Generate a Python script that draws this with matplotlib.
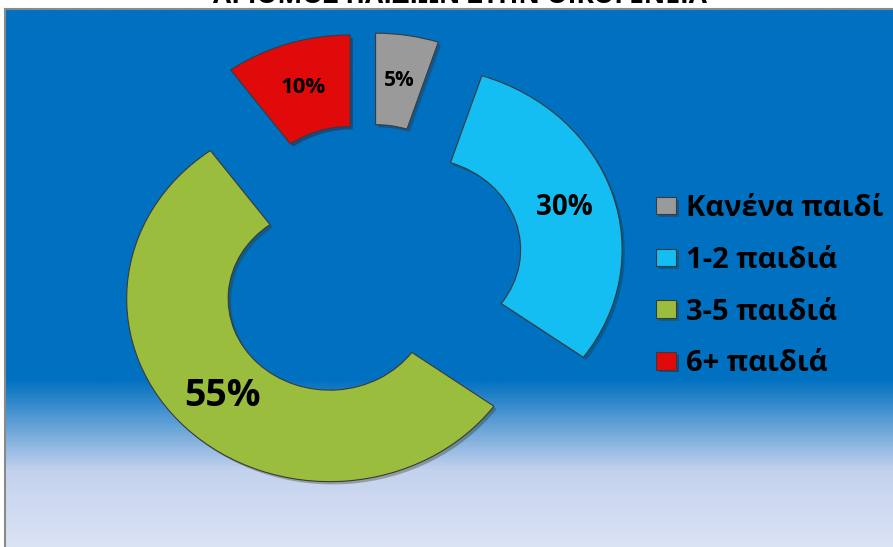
import numpy as np
import matplotlib.pyplot as plt
import matplotlib.patheffects as pe
from matplotlib.colors import LinearSegmentedColormap

W, H = 893, 547

title = "ΑΡΙΘΜΟΣ ΠΑΙΔΙΩΝ ΣΤΗΝ ΟΙΚΟΓΕΝΕΙΑ"
categories = ["Κανένα παιδί", "1-2 παιδιά", "3-5 παιδιά", "6+ παιδιά"]
shares = [5, 30, 55, 10]

colors = ["#9a9a9a", "#14bdf2", "#9bbd3e", "#e00a0a"]
explode = [0.27, 0.27, 0.26, 0.27]
label_sizes = [15, 20, 27, 16]

# donut centre in pixels, the original is stretched wider than tall
CX, CY = 367, 265
SX, SY = 203, 183

plt.rcParams['font.family'] = ['Open Sans', 'DejaVu Sans']

fig = plt.figure(figsize=(W / 100, H / 100), dpi=100)

# background panel with the blue -> pale gradient
bg = fig.add_axes([0, 0, 1, 1])
bg.set_xlim(0, W)
bg.set_ylim(H, 0)
bg.axis('off')
cmap = LinearSegmentedColormap.from_list(
    'bg', [(0, '#0070c0'), (0.69, '#0070c0'), (0.86, '#c4d2ee'), (1, '#dae3f4')])
grad = np.linspace(0, 1, 400).reshape(-1, 1)
bg.imshow(grad, cmap=cmap, extent=(5, W, H, 9), aspect='auto', interpolation='bilinear')
bg.plot([5, 5], [9, H], color='#8a8a8a', lw=1.5)
bg.plot([5, W], [9, 9], color='#8a8a8a', lw=1.5)

# title is cut by the top edge in the original too
fig.text(460 / W, 1 - 3 / H, title, ha='center', va='baseline',
         fontsize=19, fontweight='bold', color='black')

ax = fig.add_axes([0, 0, 1, 1])
wedges, texts, autotexts = ax.pie(
    shares, colors=colors, explode=explode, startangle=90, counterclock=False,
    wedgeprops=dict(width=0.5, edgecolor='#3a3a3a', linewidth=0.8),
    autopct=lambda p: f'{p:.0f}%', pctdistance=0.75,
    textprops=dict(color='black', fontweight='bold'))

for w in wedges:
    w.set_path_effects([pe.SimplePatchShadow(offset=(2, -2), alpha=0.35), pe.Normal()])
for t, s in zip(autotexts, label_sizes):
    t.set_fontsize(s)

ax.set_aspect('auto')
ax.set_xlim(-CX / SX, (W - CX) / SX)
ax.set_ylim((CY - H) / SY, CY / SY)
ax.axis('off')

ax.legend(wedges, categories, loc='upper left',
          bbox_to_anchor=(656 / W, 1 - 194 / H), bbox_transform=fig.transFigure,
          frameon=False, borderpad=0, borderaxespad=0,
          handlelength=0.68, handleheight=0.55,
          handletextpad=0.34, labelspacing=0.78,
          prop=dict(size=21, weight='bold'))

fig.savefig('out.png', dpi=100)
